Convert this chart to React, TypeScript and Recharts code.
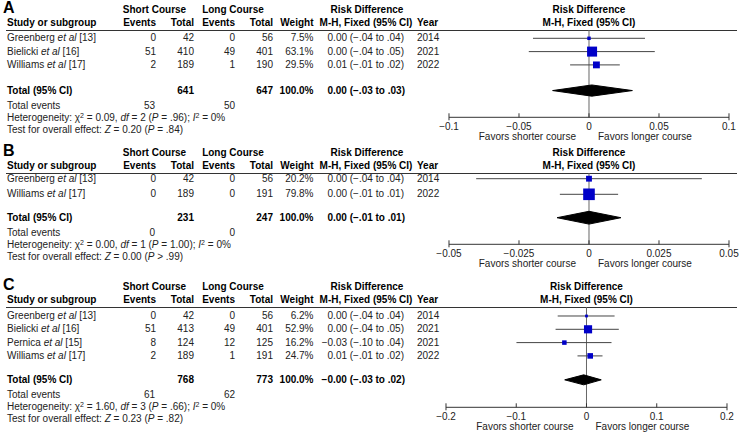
import { ScatterChart, Scatter, XAxis, YAxis, ErrorBar, ReferenceLine } from "recharts";

// ---- Panel A: all studies ----
const studiesA = ["Greenberg", "Bielicki", "Williams"];
const refsA = [13, 16, 17];
const yearsA = [2014, 2021, 2022];
const shortEventsA = [0, 51, 2];
const shortTotalA = [42, 410, 189];
const longEventsA = [0, 49, 1];
const longTotalA = [56, 401, 190];
const weightsA = [7.5, 63.1, 29.5];
const rdA = [0, 0.0022, 0.0053];
const ciLowA = [-0.04, -0.043, -0.0135];
const ciHighA = [0.04, 0.047, 0.022];
const rdTextA = ["0.00 (−.04 to .04)", "0.00 (−.04 to .05)", "0.01 (−.01 to .02)"];
const totalsA = [641, 647];
const totalEventsA = [53, 50];
const pooledA = [0.002, -0.026, 0.031]; // estimate, low, high
const pooledTextA = "0.00 (−.03 to .03)";
const hetA = ["0.09", "2", "= .96", "0%"];
const testA = ["0.20", "= .84"];
const ticksA = [-0.1, -0.05, 0, 0.05, 0.1];

// ---- Panel B ----
const studiesB = ["Greenberg", "Williams"];
const refsB = [13, 17];
const yearsB = [2014, 2022];
const shortEventsB = [0, 0];
const shortTotalB = [42, 189];
const longEventsB = [0, 0];
const longTotalB = [56, 191];
const weightsB = [20.2, 79.8];
const rdB = [0, 0];
const ciLowB = [-0.0403, -0.0104];
const ciHighB = [0.0403, 0.0104];
const rdTextB = ["0.00 (−.04 to .04)", "0.00 (−.01 to .01)"];
const totalsB = [231, 247];
const totalEventsB = [0, 0];
const pooledB = [0, -0.0114, 0.0114];
const pooledTextB = "0.00 (−.01 to .01)";
const hetB = ["0.00", "1", "= 1.00", "0%"];
const testB = ["0.00", "> .99"];
const ticksB = [-0.05, -0.025, 0, 0.025, 0.05];

// ---- Panel C ----
const studiesC = ["Greenberg", "Bielicki", "Pernica", "Williams"];
const refsC = [13, 16, 15, 17];
const yearsC = [2014, 2021, 2021, 2022];
const shortEventsC = [0, 51, 8, 2];
const shortTotalC = [42, 413, 124, 189];
const longEventsC = [0, 49, 12, 1];
const longTotalC = [56, 401, 125, 191];
const weightsC = [6.2, 52.9, 16.2, 24.7];
const rdC = [0, 0.0022, -0.0315, 0.0053];
const ciLowC = [-0.041, -0.044, -0.0997, -0.0128];
const ciHighC = [0.04, 0.046, 0.0356, 0.0228];
const rdTextC = ["0.00 (−.04 to .04)", "0.00 (−.04 to .05)", "−0.03 (−.10 to .04)", "0.01 (−.01 to .02)"];
const totalsC = [768, 773];
const totalEventsC = [61, 62];
const pooledC = [-0.004, -0.031, 0.021];
const pooledTextC = "−0.00 (−.03 to .02)";
const hetC = ["1.60", "3", "= .66", "0%"];
const testC = ["0.23", "= .82"];
const ticksC = [-0.2, -0.1, 0, 0.1, 0.2];

const W = 739;
const H = 433;
const FONT = "'Liberation Sans', Arial, Helvetica, sans-serif";
const BLUE = "#0000c8";

type Layout = {
  lineY: number;
  firstRowY: number;
  rowH: number;
  totalGap: number;
  axisY: number;
  xLeft: number;
  xRight: number;
  box: number;
  diamondH: number;
};

const panels = [
  {
    label: "A",
    studies: studiesA, refs: refsA, years: yearsA,
    se: shortEventsA, st: shortTotalA, le: longEventsA, lt: longTotalA,
    weights: weightsA, rd: rdA, lo: ciLowA, hi: ciHighA, rdText: rdTextA,
    totals: totalsA, totalEvents: totalEventsA, pooled: pooledA, pooledText: pooledTextA,
    het: hetA, test: testA, ticks: ticksA,
    layout: { lineY: 30, firstRowY: 38.3, rowH: 13.3, totalGap: 1.93, axisY: 117.3, xLeft: 449, xRight: 729, box: 1.26, diamondH: 5.6 } as Layout,
  },
  {
    label: "B",
    studies: studiesB, refs: refsB, years: yearsB,
    se: shortEventsB, st: shortTotalB, le: longEventsB, lt: longTotalB,
    weights: weightsB, rd: rdB, lo: ciLowB, hi: ciHighB, rdText: rdTextB,
    totals: totalsB, totalEvents: totalEventsB, pooled: pooledB, pooledText: pooledTextB,
    het: hetB, test: testB, ticks: ticksB,
    layout: { lineY: 173, firstRowY: 178.7, rowH: 15.6, totalGap: 1.5, axisY: 244.3, xLeft: 449, xRight: 729, box: 1.3, diamondH: 6.4 } as Layout,
  },
  {
    label: "C",
    studies: studiesC, refs: refsC, years: yearsC,
    se: shortEventsC, st: shortTotalC, le: longEventsC, lt: longTotalC,
    weights: weightsC, rd: rdC, lo: ciLowC, hi: ciHighC, rdText: rdTextC,
    totals: totalsC, totalEvents: totalEventsC, pooled: pooledC, pooledText: pooledTextC,
    het: hetC, test: testC, ticks: ticksC,
    layout: { lineY: 307, firstRowY: 316, rowH: 13.3, totalGap: 1.8, axisY: 407.3, xLeft: 446, xRight: 727, box: 1.12, diamondH: 5 } as Layout,
  },
];

type Panel = (typeof panels)[number];

function fmtTick(v: number) {
  return v < 0 ? `−${-v}` : String(v);
}

function Txt({
  x, y, align = "left", bold, size = 10, children,
}: {
  x: number; y: number; align?: "left" | "right" | "center"; bold?: boolean; size?: number; children: React.ReactNode;
}) {
  const base: React.CSSProperties = {
    position: "absolute",
    top: y - 6,
    fontSize: size,
    lineHeight: "12px",
    whiteSpace: "nowrap",
    fontWeight: bold ? 700 : 400,
    color: bold ? "#000" : "#222",
  };
  if (align === "right") return <div style={{ ...base, right: W - x }}>{children}</div>;
  if (align === "center") return <div style={{ ...base, left: x - 150, width: 300, textAlign: "center" }}>{children}</div>;
  return <div style={{ ...base, left: x }}>{children}</div>;
}

const sup: React.CSSProperties = { fontSize: 7, verticalAlign: "top", lineHeight: "8px" };

function ForestPanel({ d }: { d: Panel }) {
  const l = d.layout;
  const rowY = (i: number) => l.firstRowY + i * l.rowH;
  const totalIdx = d.studies.length - 1 + l.totalGap;
  const totalY = rowY(totalIdx);
  const lo = d.ticks[0];
  const hi = d.ticks[d.ticks.length - 1];
  const zeroX = l.xLeft + ((0 - lo) / (hi - lo)) * (l.xRight - l.xLeft);
  const midX = (l.xLeft + l.xRight) / 2;

  const studyPts = d.studies.map((_, i) => ({
    x: d.rd[i],
    y: i,
    err: [d.rd[i] - d.lo[i], d.hi[i] - d.rd[i]],
    w: d.weights[i],
  }));
  const h = l.diamondH / l.rowH;
  const diamond = [
    { x: d.pooled[1], y: totalIdx },
    { x: d.pooled[0], y: totalIdx - h },
    { x: d.pooled[2], y: totalIdx },
    { x: d.pooled[0], y: totalIdx + h },
    { x: d.pooled[1], y: totalIdx },
  ];
  const yMin = -(l.firstRowY - l.lineY) / l.rowH;
  const yMax = (l.axisY - l.firstRowY) / l.rowH;

  const Box = (props: any) => {
    const { cx, cy, payload } = props;
    const s = l.box * Math.sqrt(payload.w);
    return <rect x={cx - s / 2} y={cy - s / 2} width={s} height={s} fill={BLUE} />;
  };

  const AxisTick = (props: any) => {
    const { x, y, payload } = props;
    const end = payload.value === lo || payload.value === hi;
    return (
      <g>
        <line x1={x} x2={x} y1={y - 4} y2={end ? y + 3 : y} stroke="#333" />
        <text x={x} y={y + 12.3} textAnchor="middle" fontSize={10} fill="#222" fontFamily={FONT}>
          {fmtTick(payload.value)}
        </text>
      </g>
    );
  };

  const h1 = l.lineY - 20;
  const h2 = l.lineY - 7.3;

  return (
    <>
      <div style={{ position: "absolute", left: 3, top: l.lineY - 30, fontSize: 16, lineHeight: "16px", fontWeight: 700, color: "#000" }}>
        {d.label}
      </div>
      <Txt x={154.5} y={h1} align="center" bold>Short Course</Txt>
      <Txt x={233} y={h1} align="center" bold>Long Course</Txt>
      <Txt x={367} y={h1} align="center" bold>Risk Difference</Txt>
      <Txt x={midX} y={h1} align="center" bold>Risk Difference</Txt>
      <Txt x={7} y={h2} bold>Study or subgroup</Txt>
      <Txt x={156} y={h2} align="right" bold>Events</Txt>
      <Txt x={194} y={h2} align="right" bold>Total</Txt>
      <Txt x={235} y={h2} align="right" bold>Events</Txt>
      <Txt x={273} y={h2} align="right" bold>Total</Txt>
      <Txt x={313.5} y={h2} align="right" bold>Weight</Txt>
      <Txt x={366} y={h2} align="center" bold>M-H, Fixed (95% CI)</Txt>
      <Txt x={417} y={h2} bold>Year</Txt>
      <Txt x={midX} y={h2} align="center" bold>M-H, Fixed (95% CI)</Txt>
      <div style={{ position: "absolute", left: 6, width: 731, top: l.lineY, height: 1, background: "#333" }} />

      {d.studies.map((s, i) => {
        const y = rowY(i);
        return (
          <div key={s}>
            <Txt x={7} y={y}>
              {s} <i>et al</i> [{d.refs[i]}]
            </Txt>
            <Txt x={156} y={y} align="right">{d.se[i]}</Txt>
            <Txt x={194} y={y} align="right">{d.st[i]}</Txt>
            <Txt x={235} y={y} align="right">{d.le[i]}</Txt>
            <Txt x={273} y={y} align="right">{d.lt[i]}</Txt>
            <Txt x={313.5} y={y} align="right">{d.weights[i].toFixed(1)}%</Txt>
            <Txt x={404} y={y} align="right">{d.rdText[i]}</Txt>
            <Txt x={417} y={y}>{d.years[i]}</Txt>
          </div>
        );
      })}

      <Txt x={7} y={totalY} bold>Total (95% CI)</Txt>
      <Txt x={194} y={totalY} align="right" bold>{d.totals[0]}</Txt>
      <Txt x={273} y={totalY} align="right" bold>{d.totals[1]}</Txt>
      <Txt x={313.5} y={totalY} align="right" bold>100.0%</Txt>
      <Txt x={405} y={totalY} align="right" bold>{d.pooledText}</Txt>

      <Txt x={7} y={totalY + 15.5}>Total events</Txt>
      <Txt x={155} y={totalY + 15.5} align="right">{d.totalEvents[0]}</Txt>
      <Txt x={235} y={totalY + 15.5} align="right">{d.totalEvents[1]}</Txt>
      <Txt x={7} y={totalY + 27.3}>
        Heterogeneity: χ<span style={sup}>2</span> = {d.het[0]}, <i>df</i> = {d.het[1]} (<i>P</i> {d.het[2]}); <i>I</i>
        <span style={sup}>2</span> = {d.het[3]}
      </Txt>
      <Txt x={7} y={totalY + 39}>
        Test for overall effect: <i>Z</i> = {d.test[0]} (<i>P</i> {d.test[1]})
      </Txt>

      <Txt x={zeroX - 13} y={l.axisY + 19.5} align="right">Favors shorter course</Txt>
      <Txt x={zeroX + 9} y={l.axisY + 19.5}>Favors longer course</Txt>

      <div style={{ position: "absolute", left: 0, top: l.lineY }}>
        <ScatterChart
          width={W}
          height={l.axisY - l.lineY + 20}
          margin={{ top: 0, right: W - l.xRight, bottom: 0, left: l.xLeft }}
        >
          <XAxis
            type="number"
            dataKey="x"
            domain={[lo, hi]}
            ticks={d.ticks}
            interval={0}
            allowDataOverflow
            height={20}
            tickSize={0}
            tickMargin={0}
            tickLine={false}
            axisLine={{ stroke: "#333" }}
            tick={AxisTick}
          />
          <YAxis type="number" dataKey="y" domain={[yMin, yMax]} reversed hide width={0} allowDataOverflow />
          <ReferenceLine x={0} stroke="#666" />
          <Scatter data={studyPts} shape={Box} isAnimationActive={false}>
            <ErrorBar dataKey="err" direction="x" width={0} stroke="#444" strokeWidth={1} />
          </Scatter>
          <Scatter
            data={diamond}
            shape={() => <g />}
            line={{ fill: "#000", stroke: "#000", strokeWidth: 1 }}
            lineType="joint"
            isAnimationActive={false}
          />
        </ScatterChart>
      </div>
    </>
  );
}

export default function App() {
  return (
    <div
      style={{
        position: "fixed",
        left: 0,
        top: 0,
        width: W,
        height: H,
        background: "#fff",
        fontFamily: FONT,
        overflow: "hidden",
      }}
    >
      {panels.map((p) => (
        <ForestPanel key={p.label} d={p} />
      ))}
    </div>
  );
}
